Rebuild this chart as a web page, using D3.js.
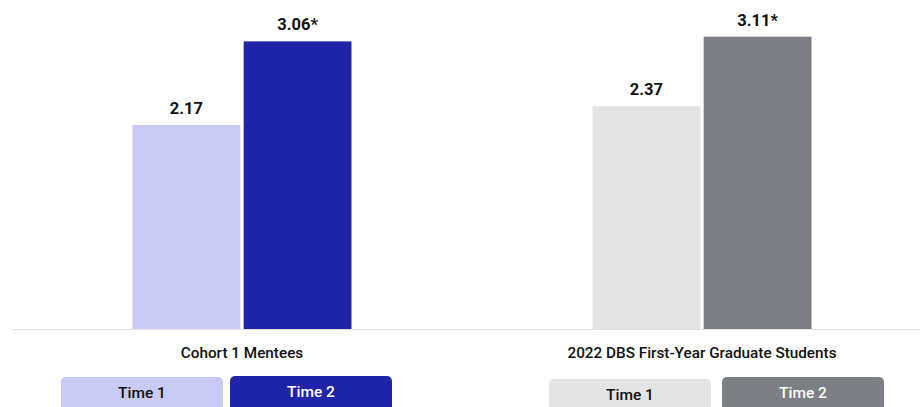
<!DOCTYPE html>
<html><head><meta charset="utf-8">
<script src="https://cdn.jsdelivr.net/npm/d3@7"></script>
<style>
html,body{margin:0;padding:0;background:#fff;}
svg{display:block;font-family:Roboto,"Noto Sans",sans-serif;}
</style></head>
<body><svg id="chart" width="920" height="407"></svg>
<script>
const groups = ["Cohort 1 Mentees", "2022 DBS First-Year Graduate Students"];
const times = ["Time 1", "Time 2"];
const values = [[2.17, 3.06], [2.37, 3.11]];
const valueLabels = [["2.17", "3.06*"], ["2.37", "3.11*"]];
const colors = [["#c8caf3", "#2024a8"], ["#e4e4e4", "#7c7f83"]];
const legendText = [["#111", "#fff"], ["#111", "#fff"]];

const svg = d3.select("#chart");
const W = 920, H = 407, baseY = 329;
const y = d3.scaleLinear().domain([0, 3.5]).range([baseY, 0]);
const gx = d3.scaleBand().domain(groups).range([12, 932]);
const inner = d3.scaleBand().domain(times).range([0, 219]).paddingInner(0.03);

// baseline
svg.append("line").attr("x1", 12).attr("x2", W).attr("y1", baseY + 0.5).attr("y2", baseY + 0.5)
  .attr("stroke", "#e2e2e2").attr("stroke-width", 1);

groups.forEach((g, gi) => {
  const cx = gx(g) + gx.bandwidth() / 2;
  const x0 = cx - 109.5;
  const gg = svg.append("g").attr("transform", `translate(${x0},0)`);
  times.forEach((t, ti) => {
    const v = values[gi][ti];
    gg.append("rect").attr("x", inner(t)).attr("width", inner.bandwidth())
      .attr("y", y(v)).attr("height", y(0) - y(v)).attr("fill", colors[gi][ti]);
    gg.append("text").attr("x", inner(t) + inner.bandwidth() / 2).attr("y", y(v) - 11)
      .attr("text-anchor", "middle").attr("font-size", 16.5).attr("font-weight", 700)
      .attr("fill", "#111").text(valueLabels[gi][ti]);
  });
  svg.append("text").attr("x", cx).attr("y", 358).attr("text-anchor", "middle")
    .attr("font-size", 15.3).attr("font-weight", 500).attr("fill", "#111").text(g);
});

// legends
const legendX = [[61, 230], [549, 722]];
const legendY = [[377, 376], [379, 377]];
groups.forEach((g, gi) => {
  times.forEach((t, ti) => {
    const lx = legendX[gi][ti], ly = legendY[gi][ti];
    svg.append("rect").attr("x", lx).attr("y", ly).attr("width", 162).attr("height", 40)
      .attr("rx", 5).attr("fill", colors[gi][ti]);
    svg.append("text").attr("x", lx + 81).attr("y", ly + 21).attr("text-anchor", "middle")
      .attr("font-size", 15.5).attr("font-weight", 500).attr("fill", legendText[gi][ti]).text(t);
  });
});
</script></body></html>
